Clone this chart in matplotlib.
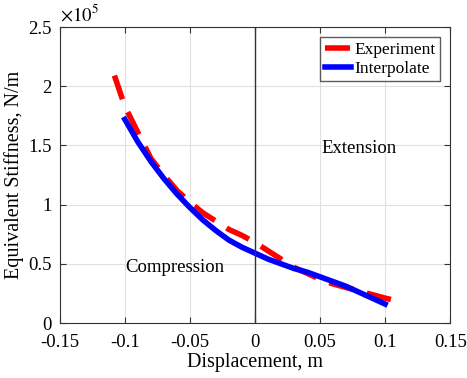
import numpy as np
import matplotlib.pyplot as plt

# 数据 (单位 1e5 N/m)
exp_x = [-0.108, -0.1, -0.09, -0.08, -0.07, -0.06, -0.05, -0.04, -0.03, -0.02, -0.01,
         0.0, 0.01, 0.02, 0.03, 0.04, 0.05, 0.06, 0.07, 0.08, 0.09, 0.1, 0.108]
exp_y = [2.09, 1.83, 1.61, 1.39, 1.25, 1.12, 1.02, 0.93, 0.86, 0.79, 0.74,
         0.68, 0.61, 0.54, 0.47, 0.42, 0.37, 0.33, 0.30, 0.27, 0.24, 0.21, 0.19]
int_x = [-0.1, -0.09, -0.08, -0.07, -0.06, -0.05, -0.04, -0.03, -0.02, -0.01,
         0.0, 0.01, 0.02, 0.03, 0.04, 0.05, 0.06, 0.07, 0.08, 0.09, 0.1]
int_y = [1.72, 1.53, 1.365, 1.22, 1.09, 0.975, 0.87, 0.78, 0.70, 0.64,
         0.59, 0.54, 0.50, 0.46, 0.43, 0.39, 0.35, 0.31, 0.26, 0.21, 0.16]

plt.rcParams['font.family'] = ['Liberation Serif', 'DejaVu Serif']
plt.rcParams['mathtext.fontset'] = 'stix'

fig = plt.figure(figsize=(4.67, 3.78), dpi=100)
ax = fig.add_axes([0.128, 0.1455, 0.836, 0.783])

ax.plot(exp_x, np.array(exp_y) * 1e5, color='red', lw=4, ls=(0, (4.5, 2.5)),
        dash_capstyle='butt', label='Experiment')
ax.plot(int_x, np.array(int_y) * 1e5, color='blue', lw=4, label='Interpolate')
ax.axvline(0, color='#333333', lw=1)

ax.set_xlim(-0.15, 0.15)
ax.set_ylim(0, 2.5e5)
ax.set_xticks([-0.15, -0.1, -0.05, 0, 0.05, 0.1, 0.15])
ax.set_xticklabels(['-0.15', '-0.1', '-0.05', '0', '0.05', '0.1', '0.15'])
ax.set_yticks([0, 0.5e5, 1e5, 1.5e5, 2e5, 2.5e5])
ax.set_yticklabels(['0', '0.5', '1', '1.5', '2', '2.5'])
ax.tick_params(direction='in', top=True, right=True, labelsize=13.5, length=4, color='#333333')
ax.tick_params(axis='x', pad=8)
ax.tick_params(axis='y', pad=6)
ax.grid(True, color='#e0e0e0', lw=0.8)
for s in ax.spines.values():
    s.set_color('#333333')

ax.set_xlabel('Displacement, m', fontsize=14.5, labelpad=1)
ax.set_ylabel('Equivalent Stiffness, N/m', fontsize=14.5, labelpad=3)
ax.text(0.0, 1.01, r'$\times10^5$', transform=ax.transAxes, fontsize=13.5, ha='left', va='bottom')

ax.text(0.051, 1.44e5, 'Extension', fontsize=13.5)
ax.text(-0.1, 0.43e5, 'Compression', fontsize=13.5)

leg = ax.legend(loc='upper right', fontsize=12.5, handlelength=1.5, frameon=True, fancybox=False,
                borderpad=0.25, labelspacing=0.15, handletextpad=0.2, borderaxespad=0.6)
leg.get_frame().set_edgecolor('#333333')
leg.get_frame().set_linewidth(1)

fig.savefig('out.png', dpi=100)
